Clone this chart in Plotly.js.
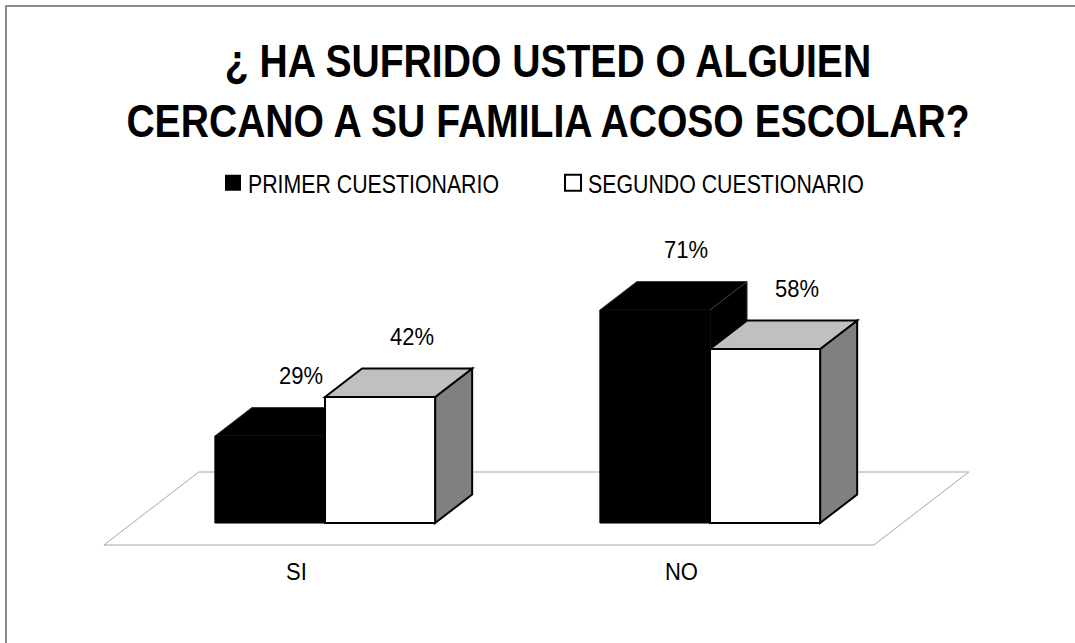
<!DOCTYPE html>
<html>
<head>
<meta charset="utf-8">
<script src="https://cdn.plot.ly/plotly-3.0.1.min.js"></script>
<style>html,body{margin:0;padding:0;background:#fff;}#chart{width:1075px;height:643px;}</style>
</head>
<body>
<div id="chart"></div>
<script>
// ---- data ----
const categories = ['SI', 'NO'];
const seriesNames = ['PRIMER CUESTIONARIO', 'SEGUNDO CUESTIONARIO'];
const primer = [29, 71];
const segundo = [42, 58];

// ---- geometry / style ----
const FONT = '"Liberation Sans", Arial, sans-serif';
const W = 1075, H = 643;
const M = {l: 50, r: 50, t: 220, b: 88};
const plotW = W - M.l - M.r, plotH = H - M.t - M.b;
const pxPerX = 385;          // pixels per category
const pxPerY = 3;            // pixels per percent
const oblique = 1.3;         // horizontal px per vertical px of depth
const xRange = [(M.l - 325) / pxPerX, (W - M.r - 325) / pxPerX];
const yRange = [(523 - (H - M.b)) / pxPerY, (523 - M.t) / pxPerY];
const barW = 0.286;
const barDepth = 9.5;                 // depth expressed in y units
const floorFront = -22 / 3, floorBack = 17;
function dxFor(d) { return d * pxPerY * oblique / pxPerX; }

const seriesVals = [primer, segundo];
const offsets = [-barW, 0];
const faceColors = [
  {front: '#000000', top: '#000000', side: '#000000', line: '#000000', edge: '#3a3a3a'},
  {front: '#ffffff', top: '#c0c0c0', side: '#808080', line: '#000000', edge: '#000000'}
];

const traces = seriesVals.map((vals, s) => ({
  type: 'bar',
  name: seriesNames[s],
  legendgroup: 'g' + s,
  showlegend: false,
  x: categories.map((_, i) => i),
  y: vals,
  offset: offsets[s],
  width: barW,
  marker: {color: faceColors[s].front, line: {color: faceColors[s].line, width: s === 0 ? 1 : 2}},
  hoverinfo: 'skip'
}));
// legend entries (square keys like the original)
seriesNames.forEach((name, s) => {
  traces.push({
    type: 'scatter', mode: 'markers', name: name, legendgroup: 'g' + s,
    x: [null], y: [null], hoverinfo: 'skip',
    marker: {symbol: 'square', size: 16, color: faceColors[s].front,
             line: {color: '#000', width: s === 0 ? 0 : 2}}
  });
});

const shapes = [];
// outer border
shapes.push({type: 'rect', xref: 'paper', yref: 'paper',
  x0: (6 - M.l) / plotW, x1: 1.3, y0: -0.6, y1: ((H - M.b) - 6) / plotH,
  line: {color: '#8c8c8c', width: 2}, fillcolor: 'rgba(0,0,0,0)', layer: 'below'});
// floor
const fx0 = -0.5, fx1 = categories.length - 0.5;
shapes.push({type: 'path', xref: 'x', yref: 'y', layer: 'below',
  path: `M${fx0 + dxFor(floorFront)},${floorFront} L${fx1 + dxFor(floorFront)},${floorFront} L${fx1 + dxFor(floorBack)},${floorBack} L${fx0 + dxFor(floorBack)},${floorBack} Z`,
  line: {color: '#a6a6a6', width: 1}, fillcolor: 'rgba(0,0,0,0)'});
// top and side faces
const ddx = dxFor(barDepth);
seriesVals.forEach((vals, s) => {
  vals.forEach((v, i) => {
    const a = i + offsets[s], b = a + barW;
    const lw = s === 0 ? 1 : 2;
    shapes.push({type: 'path', xref: 'x', yref: 'y', layer: 'below',
      path: `M${b},0 L${b + ddx},${barDepth} L${b + ddx},${v + barDepth} L${b},${v} Z`,
      fillcolor: faceColors[s].side, line: {color: faceColors[s].edge, width: lw}});
    shapes.push({type: 'path', xref: 'x', yref: 'y', layer: 'below',
      path: `M${a},${v} L${a + ddx},${v + barDepth} L${b + ddx},${v + barDepth} L${b},${v} Z`,
      fillcolor: faceColors[s].top, line: {color: faceColors[s].edge, width: lw}});
  });
});

const annotations = [];
seriesVals.forEach((vals, s) => {
  vals.forEach((v, i) => {
    annotations.push({xref: 'x', yref: 'y', x: i + offsets[s] + barW / 2 + ddx * 0.85, y: v + barDepth,
      text: v + '%', showarrow: false, yanchor: 'middle', yshift: 32,
      font: {family: FONT, size: 24, color: '#000'}});
  });
});

const layout = {
  width: W, height: H,
  margin: M,
  paper_bgcolor: '#ffffff', plot_bgcolor: 'rgba(0,0,0,0)',
  barmode: 'overlay',
  title: {
    text: '¿ HA SUFRIDO USTED O ALGUIEN<br>CERCANO A SU FAMILIA ACOSO ESCOLAR?',
    x: (548 - M.l) / plotW, xanchor: 'center', xref: 'paper',
    y: 1 - 77 / H, yref: 'container', yanchor: 'top',
    font: {family: FONT, size: 46, color: '#000', weight: 'bold'}
  },
  showlegend: true,
  legend: {
    orientation: 'h', xref: 'container', yref: 'container',
    x: 213 / W, xanchor: 'left', y: (H - 183) / H, yanchor: 'middle',
    font: {family: FONT, size: 25, color: '#000'},
    entrywidth: 295, entrywidthmode: 'pixels', itemsizing: 'trace',
    bgcolor: 'rgba(0,0,0,0)', traceorder: 'normal', itemclick: false
  },
  xaxis: {
    range: xRange, showgrid: false, zeroline: false, showline: false, ticks: '',
    tickvals: categories.map((_, i) => i + dxFor(floorFront)), ticktext: categories,
    tickfont: {family: FONT, size: 24, color: '#000'}, fixedrange: true
  },
  yaxis: {range: yRange, visible: false, showgrid: false, zeroline: false, fixedrange: true},
  shapes: shapes,
  annotations: annotations
};

// narrow the sans font horizontally (the original uses a condensed typeface)
function condense(selector, s, shift) {
  document.querySelectorAll(selector).forEach(t => {
    const ax = parseFloat(t.getAttribute('x')) || 0;
    const prev = t.getAttribute('transform') || '';
    t.setAttribute('transform', `${prev} translate(${ax + (shift || 0)},0) scale(${s},1) translate(${-ax},0)`);
  });
}

Plotly.newPlot('chart', traces, layout, {displayModeBar: false, staticPlot: true}).then(() => {
  condense('#chart .gtitle', 0.85);
  condense('#chart .legendtext', 0.853, -5);
  condense('#chart .annotation-text', 0.917);
  condense('#chart .xtick text', 0.917);
});
</script>
</body>
</html>
